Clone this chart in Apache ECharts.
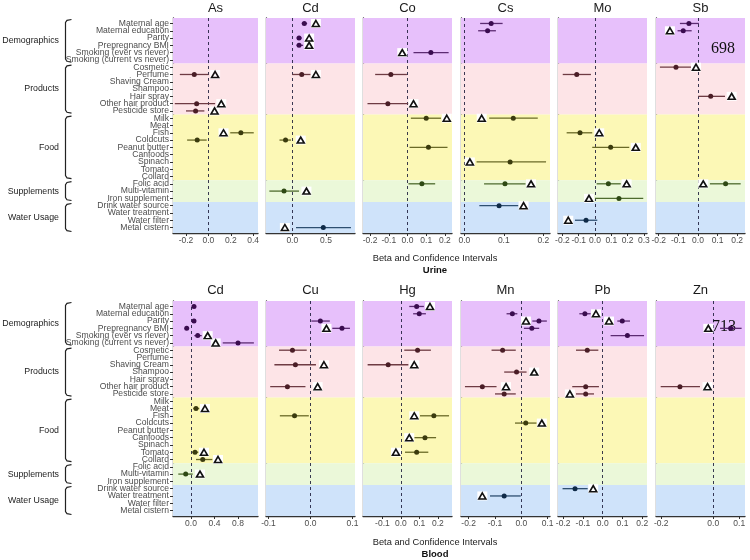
<!DOCTYPE html>
<html>
<head>
<meta charset="utf-8" />
<title></title>
<script src="https://cdn.jsdelivr.net/npm/echarts@6.0.0/dist/echarts.min.js"></script>
<style>
    html, body { margin: 0; padding: 0; background: #fff; }
    #chart { width: 750px; height: 560px; }
</style>
</head>
<body>
<div id="chart"></div>
<script>
    // row labels (same for every panel)
    const rows = ['Maternal age', 'Maternal education', 'Parity', 'Prepregnancy BMI', 'Smoking (ever vs never)',
        'Smoking (current vs never)', 'Cosmetic', 'Perfume', 'Shaving Cream', 'Shampoo', 'Hair spray',
        'Other hair product', 'Pesticide store', 'Milk', 'Meat', 'Fish', 'Coldcuts', 'Peanut butter', 'Canfoods',
        'Spinach', 'Tomato', 'Collard', 'Folic acid', 'Multi-vitamin', 'Iron supplement', 'Drink water source',
        'Water treatment', 'Water filter', 'Metal cistern'];
    const groups = [['Demographics', 6], ['Products', 7], ['Food', 9], ['Supplements', 3], ['Water Usage', 4]];

    // [row, beta, lower, upper]   and triangles: [row, value]
    const urineAs = [['Perfume', -0.126, -0.255, 0.0], ['Other hair product', -0.105, -0.30, 0.06],
        ['Pesticide store', -0.114, -0.2, -0.036], ['Fish', 0.29, 0.195, 0.405], ['Coldcuts', -0.1, -0.19, -0.015]];
    const urineAsTri = [['Perfume', 0.06], ['Other hair product', 0.115], ['Pesticide store', 0.055], ['Fish', 0.135]];

    const urineCd = [['Maternal age', 0.178, 0.14, 0.22], ['Parity', 0.1, 0.065, 0.14], ['Prepregnancy BMI', 0.1, 0.065, 0.16],
        ['Perfume', 0.14, 0.0, 0.27], ['Coldcuts', -0.1, -0.19, -0.02], ['Multi-vitamin', -0.123, -0.34, 0.1],
        ['Metal cistern', 0.46, 0.055, 0.87]];
    const urineCdTri = [['Maternal age', 0.35], ['Parity', 0.25], ['Prepregnancy BMI', 0.25], ['Perfume', 0.35],
        ['Coldcuts', 0.125], ['Multi-vitamin', 0.21], ['Metal cistern', -0.11]];

    const urineCo = [['Smoking (ever vs never)', 0.125, 0.032, 0.22], ['Perfume', -0.089, -0.173, -0.003],
        ['Other hair product', -0.105, -0.214, 0.005], ['Milk', 0.1, 0.018, 0.179], ['Peanut butter', 0.112, 0.011, 0.214],
        ['Folic acid', 0.077, 0.005, 0.148]];
    const urineCoTri = [['Smoking (ever vs never)', -0.028], ['Other hair product', 0.032], ['Milk', 0.21]];

    const urineCs = [['Maternal age', 0.068, 0.04, 0.097], ['Maternal education', 0.059, 0.035, 0.08],
        ['Milk', 0.124, 0.063, 0.186], ['Spinach', 0.116, 0.031, 0.207], ['Folic acid', 0.103, 0.05, 0.155],
        ['Drink water source', 0.088, 0.038, 0.137]];
    const urineCsTri = [['Milk', 0.044], ['Spinach', 0.014], ['Folic acid', 0.169], ['Drink water source', 0.15]];

    const urineMo = [['Perfume', -0.112, -0.198, -0.025], ['Fish', -0.092, -0.174, -0.017],
        ['Peanut butter', 0.096, -0.017, 0.21], ['Folic acid', 0.082, 0.01, 0.158], ['Iron supplement', 0.147, 0.0, 0.296],
        ['Water filter', -0.055, -0.123, 0.014]];
    const urineMoTri = [['Fish', 0.026], ['Peanut butter', 0.25], ['Folic acid', 0.194], ['Iron supplement', -0.037],
        ['Water filter', -0.164]];

    const urineSb = [['Maternal age', -0.046, -0.092, 0.005], ['Maternal education', -0.075, -0.104, -0.032],
        ['Cosmetic', -0.112, -0.194, -0.032], ['Hair spray', 0.065, 0.002, 0.138], ['Folic acid', 0.141, 0.061, 0.218]];
    const urineSbTri = [['Maternal education', -0.143], ['Cosmetic', -0.01], ['Hair spray', 0.172], ['Folic acid', 0.027]];

    const bloodCd = [['Maternal age', 0.051, 0.022, 0.08], ['Parity', 0.051, 0.012, 0.085],
        ['Prepregnancy BMI', -0.073, -0.09, -0.055], ['Smoking (ever vs never)', 0.114, 0.056, 0.182],
        ['Smoking (current vs never)', 0.8, 0.54, 1.07], ['Meat', 0.085, 0.039, 0.14], ['Tomato', 0.068, 0.022, 0.124],
        ['Collard', 0.2, 0.085, 0.363], ['Multi-vitamin', -0.09, -0.216, 0.029]];
    const bloodCdTri = [['Smoking (ever vs never)', 0.284], ['Smoking (current vs never)', 0.42], ['Meat', 0.238],
        ['Tomato', 0.221], ['Collard', 0.46], ['Multi-vitamin', 0.153]];

    const bloodCu = [['Parity', 0.0235, 0.002, 0.046], ['Prepregnancy BMI', 0.075, 0.052, 0.094],
        ['Cosmetic', -0.043, -0.075, -0.009], ['Shaving Cream', -0.036, -0.086, 0.013],
        ['Other hair product', -0.055, -0.096, -0.012], ['Fish', -0.038, -0.073, -0.004]];
    const bloodCuTri = [['Prepregnancy BMI', 0.038], ['Shaving Cream', 0.032], ['Other hair product', 0.017]];

    const bloodHg = [['Maternal age', 0.085, 0.045, 0.124], ['Maternal education', 0.099, 0.066, 0.135],
        ['Cosmetic', 0.09, 0.018, 0.162], ['Shaving Cream', -0.069, -0.18, 0.04], ['Fish', 0.178, 0.103, 0.26],
        ['Canfoods', 0.13, 0.072, 0.19], ['Tomato', 0.085, 0.022, 0.148]];
    const bloodHgTri = [['Maternal age', 0.157], ['Shaving Cream', 0.072], ['Fish', 0.072], ['Canfoods', 0.045],
        ['Tomato', -0.027]];

    const bloodMn = [['Maternal education', -0.034, -0.056, -0.015], ['Parity', 0.067, 0.042, 0.097],
        ['Prepregnancy BMI', 0.04, 0.01, 0.068], ['Cosmetic', -0.071, -0.113, -0.021], ['Shampoo', -0.018, -0.065, 0.02],
        ['Other hair product', -0.148, -0.214, -0.094], ['Pesticide store', -0.065, -0.1, -0.021],
        ['Coldcuts', 0.017, -0.024, 0.058], ['Water treatment', -0.065, -0.119, -0.002]];
    const bloodMnTri = [['Parity', 0.018], ['Shampoo', 0.049], ['Other hair product', -0.058], ['Coldcuts', 0.078],
        ['Water treatment', -0.148]];

    const bloodPb = [['Maternal education', -0.09, -0.118, -0.061], ['Parity', 0.099, 0.074, 0.138],
        ['Smoking (ever vs never)', 0.125, 0.04, 0.209], ['Cosmetic', -0.078, -0.135, -0.022],
        ['Other hair product', -0.086, -0.154, -0.019], ['Pesticide store', -0.086, -0.135, -0.044],
        ['Drink water source', -0.14, -0.203, -0.076]];
    const bloodPbTri = [['Maternal education', -0.034], ['Parity', 0.032], ['Pesticide store', -0.166],
        ['Drink water source', -0.048]];

    const bloodZn = [['Prepregnancy BMI', 0.067, 0.026, 0.109], ['Other hair product', -0.128, -0.202, -0.051]];
    const bloodZnTri = [['Prepregnancy BMI', -0.019], ['Other hair product', -0.022]];

    // panels: name, data, triangles, axis range, tick values
    const urinePanels = [
        { name: 'As', data: urineAs, tri: urineAsTri, range: [-0.316, 0.443], ticks: [-0.2, 0, 0.2, 0.4] },
        { name: 'Cd', data: urineCd, tri: urineCdTri, range: [-0.39, 0.93], ticks: [0, 0.5] },
        { name: 'Co', data: urineCo, tri: urineCoTri, range: [-0.238, 0.238], ticks: [-0.2, -0.1, 0, 0.1, 0.2] },
        { name: 'Cs', data: urineCs, tri: urineCsTri, range: [-0.0084, 0.217], ticks: [0, 0.1, 0.2] },
        { name: 'Mo', data: urineMo, tri: urineMoTri, range: [-0.227, 0.319], ticks: [-0.2, -0.1, 0, 0.1, 0.2, 0.3] },
        { name: 'Sb', data: urineSb, tri: urineSbTri, range: [-0.214, 0.24], ticks: [-0.2, -0.1, 0, 0.1, 0.2] }
    ];
    const bloodPanels = [
        { name: 'Cd', data: bloodCd, tri: bloodCdTri, range: [-0.306, 1.14], ticks: [0, 0.4, 0.8] },
        { name: 'Cu', data: bloodCu, tri: bloodCuTri, range: [-0.106, 0.106], ticks: [-0.1, 0, 0.1] },
        { name: 'Hg', data: bloodHg, tri: bloodHgTri, range: [-0.205, 0.276], ticks: [-0.1, 0, 0.1, 0.2] },
        { name: 'Mn', data: bloodMn, tri: bloodMnTri, range: [-0.229, 0.109], ticks: [-0.2, -0.1, 0, 0.1] },
        { name: 'Pb', data: bloodPb, tri: bloodPbTri, range: [-0.226, 0.224], ticks: [-0.2, -0.1, 0, 0.1, 0.2] },
        { name: 'Zn', data: bloodZn, tri: bloodZnTri, range: [-0.22, 0.122], ticks: [-0.2, 0, 0.1] }
    ];

    const bandColors = ['#e7c0fb', '#fde4e7', '#fcf8b6', '#ebf8d9', '#cfe3fa'];
    const dotColors = ['#3a0c4f', '#4a1d26', '#3b3b0e', '#2e4914', '#0f2a47'];
    const barColors = ['#5c2b72', '#6e3b43', '#6a6a27', '#4e6b2e', '#2e4f70'];

    const panelLeft = [173, 266, 363, 461, 558, 656];
    const panelWidth = [85, 89, 89, 89, 89, 89];
    const blocks = [
        { top: 18, titleY: 8, captionY: [258.5, 270], caption: 'Urine', panels: urinePanels },
        { top: 301, titleY: 290, captionY: [542.7, 554], caption: 'Blood', panels: bloodPanels }
    ];
    const blockHeight = 215;
    const font = '"Liberation Sans", Arial, sans-serif';

    const yMin = -0.75, yMax = rows.length - 0.25;
    const rowIndex = name => rows.indexOf(name);
    const groupOf = r => {
        let acc = 0;
        for (let g = 0; g < groups.length; g++) {
            acc += groups[g][1];
            if (r < acc) return g;
        }
        return groups.length - 1;
    };
    // the axis ends carry empty labels so ECharts' min/max label check never hides a row name
    const yTicks = [yMin].concat(rows.map((_, i) => i), [yMax]);

    // band limits on the row axis
    const bandLimits = [];
    let cum = 0;
    groups.forEach((g, i) => {
        const start = i === 0 ? yMin : cum - 0.5;
        cum += g[1];
        const end = i === groups.length - 1 ? yMax : cum - 0.5;
        bandLimits.push([start, end]);
    });

    const chart = echarts.init(document.getElementById('chart'));
    const grid = [], xAxis = [], yAxis = [], series = [];
    const axisLine = { show: true, onZero: false, lineStyle: { color: '#333', width: 1.3 } };

    blocks.forEach((block, b) => {
        block.panels.forEach((p, i) => {
            const k = b * 6 + i;
            grid.push({ left: panelLeft[i], top: block.top, width: panelWidth[i], height: blockHeight });
            xAxis.push({
                type: 'value', gridIndex: k, min: p.range[0], max: p.range[1],
                splitLine: { show: false }, axisLine: axisLine,
                axisTick: { show: true, length: 3, customValues: p.ticks, lineStyle: { color: '#333' } },
                axisLabel: {
                    customValues: p.ticks, showMinLabel: true, showMaxLabel: true, hideOverlap: false,
                    formatter: v => v.toFixed(1), fontSize: 8.5, color: '#4d4d4d', margin: 3, fontFamily: font
                }
            });
            yAxis.push({
                type: 'value', gridIndex: k, min: yMin, max: yMax, inverse: true,
                splitLine: { show: false }, axisLine: axisLine,
                axisTick: { show: i === 0, length: 3, customValues: yTicks, lineStyle: { color: '#333' } },
                axisLabel: {
                    show: i === 0, customValues: yTicks, showMinLabel: false, showMaxLabel: false, hideOverlap: false,
                    formatter: v => Number.isInteger(v) ? rows[v] : '',
                    fontSize: 8.6, color: '#4d4d4d', margin: 4, fontFamily: font
                }
            });

            // background bands
            series.push({
                type: 'scatter', xAxisIndex: k, yAxisIndex: k, data: [], silent: true, z: 0,
                markArea: {
                    silent: true,
                    data: bandLimits.map((l, g) => [{ yAxis: l[0], itemStyle: { color: bandColors[g] } }, { yAxis: l[1] }])
                }
            });
            // confidence intervals + zero line
            series.push({
                type: 'custom', xAxisIndex: k, yAxisIndex: k, silent: true, z: 3,
                data: p.data.map(d => { const r = rowIndex(d[0]); return [d[2], d[3], r, groupOf(r)]; }),
                encode: { x: [0, 1], y: 2 },
                renderItem: (params, api) => {
                    const a = api.coord([api.value(0), api.value(2)]);
                    const c = api.coord([api.value(1), api.value(2)]);
                    return {
                        type: 'line', shape: { x1: a[0], y1: a[1], x2: c[0], y2: c[1] },
                        style: { stroke: barColors[api.value(3)], lineWidth: 1.3 }
                    };
                },
                markLine: {
                    silent: true, symbol: 'none', label: { show: false }, z: 2,
                    lineStyle: { type: [3, 3], color: 'rgba(25,25,55,0.85)', width: 1 },
                    data: [{ xAxis: 0 }]
                }
            });
            // estimates
            series.push({
                type: 'scatter', xAxisIndex: k, yAxisIndex: k, silent: true, z: 4, symbolSize: 5,
                data: p.data.map(d => { const r = rowIndex(d[0]); return [d[1], r, groupOf(r)]; }),
                itemStyle: { color: q => dotColors[q.value[2]], opacity: 1 }
            });
            // triangle markers in white boxes
            const triData = p.tri.map(t => [t[1], rowIndex(t[0])]);
            series.push({
                type: 'scatter', xAxisIndex: k, yAxisIndex: k, silent: true, z: 5, symbol: 'rect', symbolSize: [10, 9],
                data: triData, itemStyle: { color: '#fff', opacity: 1 }
            });
            series.push({
                type: 'scatter', xAxisIndex: k, yAxisIndex: k, silent: true, z: 6, symbol: 'triangle', symbolSize: [7, 6],
                data: triData, itemStyle: { color: '#fff', borderColor: '#111', borderWidth: 1.6, opacity: 1 }
            });
        });
    });

    chart.setOption({ animation: false, grid: grid, xAxis: xAxis, yAxis: yAxis, series: series });

    // titles, group labels and brackets
    const graphic = [];
    const textStyle = (text, size, extra) => Object.assign({ text: text, fontSize: size, fontFamily: font, fill: '#1a1a1a', align: 'center', verticalAlign: 'middle' }, extra || {});
    blocks.forEach((block, b) => {
        block.panels.forEach((p, i) => {
            graphic.push({ type: 'text', x: panelLeft[i] + panelWidth[i] / 2, y: block.titleY, style: textStyle(p.name, 13) });
        });
        graphic.push({ type: 'text', x: 435, y: block.captionY[0], style: textStyle('Beta and Confidence Intervals', 9.3, { fill: '#222' }) });
        graphic.push({ type: 'text', x: 435, y: block.captionY[1], style: textStyle(block.caption, 9.5, { fontWeight: 'bold', fill: '#111' }) });

        const yAxisIndex = b * 6;
        bandLimits.forEach((l, g) => {
            const y0 = chart.convertToPixel({ yAxisIndex: yAxisIndex }, l[0]) + 1.5;
            const y1 = chart.convertToPixel({ yAxisIndex: yAxisIndex }, l[1]) - 1.5;
            const x = 65.5;
            graphic.push({
                type: 'polyline', silent: true,
                shape: { points: [[x + 6, y0], [x + 1.5, y0 + 0.8], [x, y0 + 3], [x, y1 - 3], [x + 1.5, y1 - 0.8], [x + 6, y1]] },
                style: { stroke: '#222', lineWidth: 1.2, fill: null }
            });
            graphic.push({ type: 'text', x: 59, y: (y0 + y1) / 2, style: textStyle(groups[g][0], 8.8, { align: 'right', fill: '#222' }) });
        });
    });
    graphic.push({ type: 'text', x: 723, y: 49, z: 1, style: textStyle('698', 16, { fontFamily: '"Liberation Serif", serif', fill: '#111' }) });
    graphic.push({ type: 'text', x: 724, y: 327, z: 1, style: textStyle('713', 16, { fontFamily: '"Liberation Serif", serif', fill: '#111' }) });

    chart.setOption({ graphic: graphic });
</script>
</body>
</html>
